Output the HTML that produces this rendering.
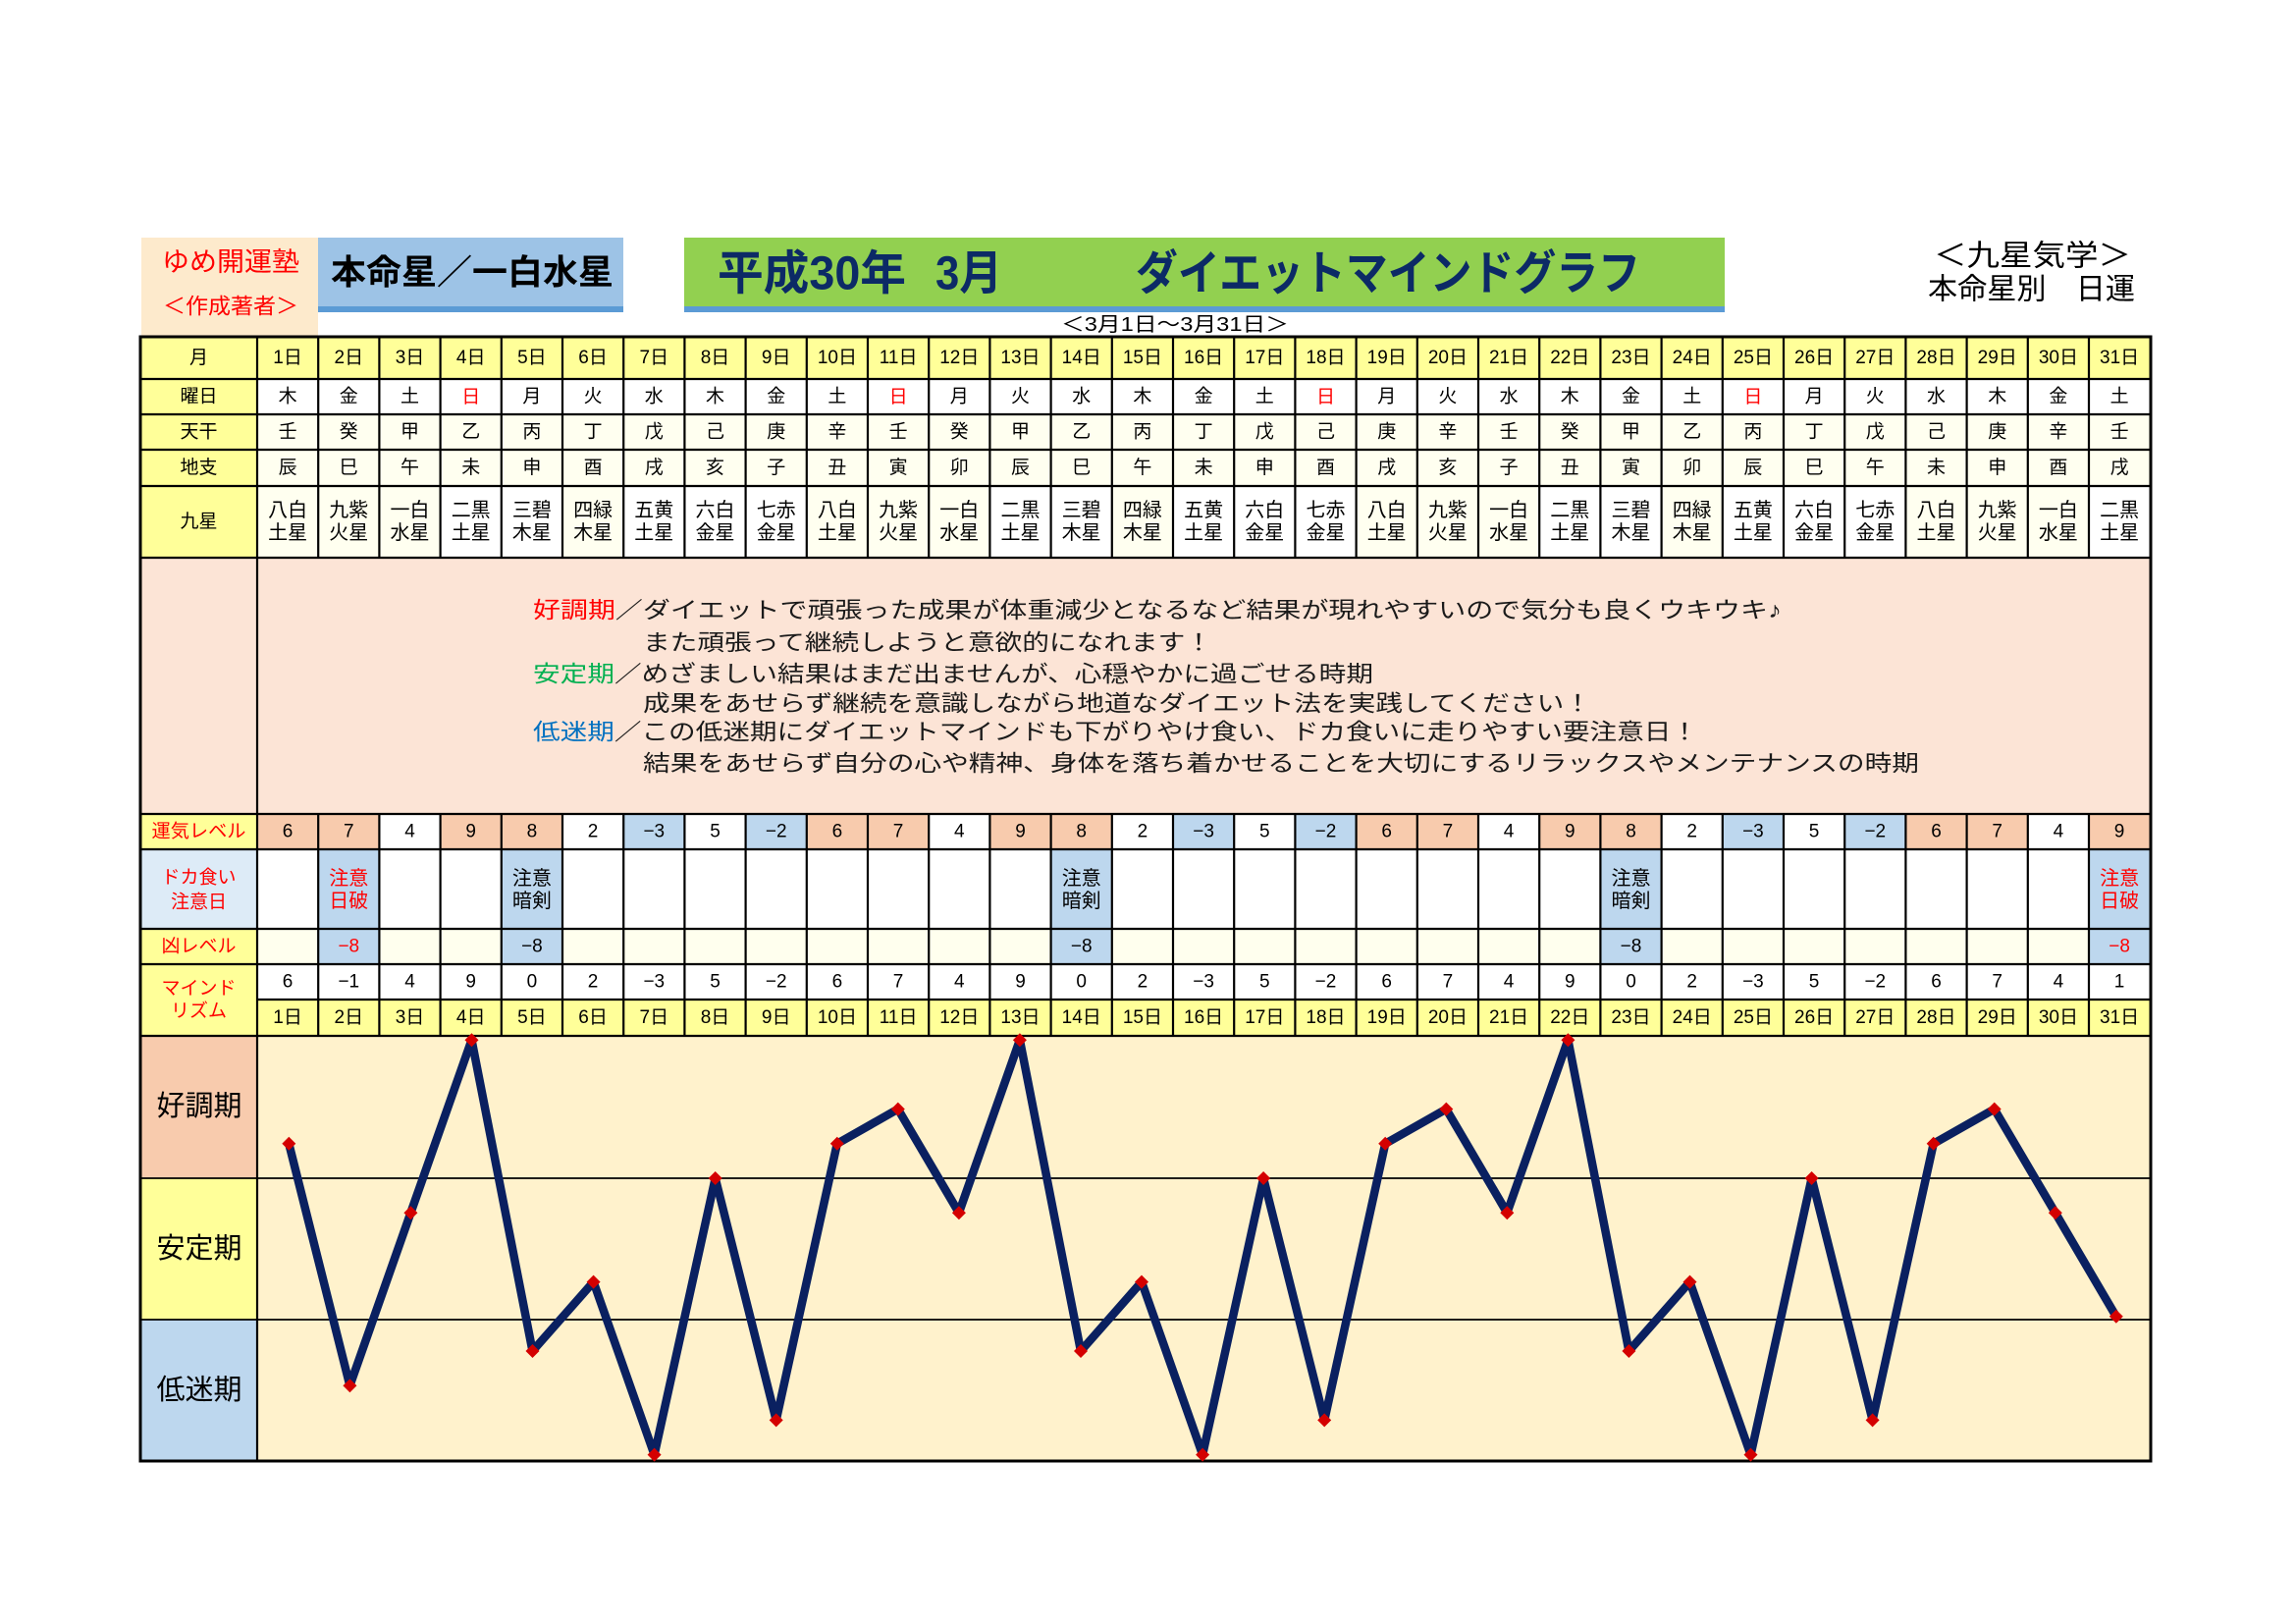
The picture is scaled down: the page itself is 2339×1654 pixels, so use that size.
<!DOCTYPE html>
<html><head><meta charset="utf-8">
<style>html,body{margin:0;padding:0;background:#fff;}svg{display:block}</style>
</head><body>
<svg xmlns="http://www.w3.org/2000/svg" width="2339" height="1654" viewBox="0 0 2339 1654" font-family="'Liberation Sans','Noto Sans CJK JP',sans-serif">
<rect width="2339" height="1654" fill="#fff"/>

<!-- ===== Header boxes ===== -->
<rect x="144" y="242" width="180" height="101" fill="#fdeacc"/>
<text x="235" y="267" font-size="27" fill="#ff0000" text-anchor="middle" dominant-baseline="central" textLength="140" lengthAdjust="spacingAndGlyphs">ゆめ開運塾</text>
<text x="235" y="312" font-size="22" fill="#ff0000" text-anchor="middle" dominant-baseline="central" textLength="138" lengthAdjust="spacingAndGlyphs">＜作成著者＞</text>

<rect x="324" y="242" width="311" height="71" fill="#9dc3e6"/>
<rect x="324" y="312" width="311" height="6" fill="#5b9bd5"/>
<text x="481" y="278" font-size="35" font-weight="bold" fill="#000" text-anchor="middle" dominant-baseline="central" textLength="288" lengthAdjust="spacingAndGlyphs">本命星／一白水星</text>

<rect x="697" y="242" width="1060" height="71" fill="#92d050"/>
<rect x="697" y="312" width="1060" height="6" fill="#5b9bd5"/>
<g font-size="48" font-weight="bold" fill="#0c2a66" dominant-baseline="central">
<text x="731" y="279" textLength="192" lengthAdjust="spacingAndGlyphs">平成30年</text>
<text x="953" y="279" textLength="68" lengthAdjust="spacingAndGlyphs">3月</text>
<text x="1157" y="279" textLength="514" lengthAdjust="spacingAndGlyphs">ダイエットマインドグラフ</text>
</g>
<text x="1197" y="331" font-size="20" fill="#000" text-anchor="middle" dominant-baseline="central" textLength="232" lengthAdjust="spacingAndGlyphs">＜3月1日～3月31日＞</text>

<text x="1970" y="261" font-size="30" fill="#000" dominant-baseline="central" textLength="201" lengthAdjust="spacingAndGlyphs">＜九星気学＞</text>
<text x="1964" y="295" font-size="30" fill="#000" dominant-baseline="central" textLength="211" lengthAdjust="spacingAndGlyphs">本命星別　日運</text>

<!-- ===== Top table fills ===== -->
<rect x="143" y="343" width="119" height="225" fill="#ffff99"/>
<rect x="262" y="343" width="1929" height="43" fill="#ffff99"/>
<rect x="262" y="386" width="1929" height="36" fill="#ffffff"/>
<rect x="262" y="422" width="1929" height="73" fill="#fffff0"/>
<rect x="262" y="495" width="1929" height="73" fill="#ffffff"/>
<g fill="#fffff0">
<rect x="262" y="495" width="62.2" height="73"/>
<rect x="324.2" y="495" width="62.2" height="73"/>
<rect x="386.4" y="495" width="62.2" height="73"/>
<rect x="573" y="495" width="62.2" height="73"/>
<rect x="821.8" y="495" width="62.2" height="73"/>
<rect x="884" y="495" width="62.2" height="73"/>
<rect x="946.2" y="495" width="62.2" height="73"/>
<rect x="1132.8" y="495" width="62.2" height="73"/>
<rect x="1381.6" y="495" width="62.2" height="73"/>
<rect x="1443.8" y="495" width="62.2" height="73"/>
<rect x="1506" y="495" width="62.2" height="73"/>
<rect x="1692.6" y="495" width="62.2" height="73"/>
<rect x="1941.4" y="495" width="62.2" height="73"/>
<rect x="2003.6" y="495" width="62.2" height="73"/>
<rect x="2065.8" y="495" width="62.2" height="73"/>
</g>

<!-- pink description area -->
<rect x="143" y="568" width="2048" height="261" fill="#fce4d6"/>

<!-- ===== Lower table fills ===== -->
<rect x="143" y="829" width="119" height="36" fill="#ffff99"/>
<rect x="143" y="865" width="119" height="81" fill="#ddebf7"/>
<rect x="143" y="946" width="119" height="109" fill="#ffff99"/>
<rect x="262" y="829" width="1929" height="36" fill="#ffffff"/>
<rect x="262" y="865" width="1929" height="81" fill="#ffffff"/>
<rect x="262" y="946" width="1929" height="36" fill="#ffffee"/>
<rect x="262" y="982" width="1929" height="36" fill="#ffffff"/>
<rect x="262" y="1018" width="1929" height="37" fill="#ffff99"/>
<g fill="#f8cbad">
<rect x="262" y="829" width="62.2" height="36"/>
<rect x="324.2" y="829" width="62.2" height="36"/>
<rect x="448.6" y="829" width="62.2" height="36"/>
<rect x="510.8" y="829" width="62.2" height="36"/>
<rect x="821.8" y="829" width="62.2" height="36"/>
<rect x="884" y="829" width="62.2" height="36"/>
<rect x="1008.4" y="829" width="62.2" height="36"/>
<rect x="1070.6" y="829" width="62.2" height="36"/>
<rect x="1381.6" y="829" width="62.2" height="36"/>
<rect x="1443.8" y="829" width="62.2" height="36"/>
<rect x="1568.2" y="829" width="62.2" height="36"/>
<rect x="1630.4" y="829" width="62.2" height="36"/>
<rect x="1941.4" y="829" width="62.2" height="36"/>
<rect x="2003.6" y="829" width="62.2" height="36"/>
<rect x="2128" y="829" width="62.2" height="36"/>
</g>
<g fill="#bdd7ee">
<rect x="635.2" y="829" width="62.2" height="36"/>
<rect x="759.6" y="829" width="62.2" height="36"/>
<rect x="1195" y="829" width="62.2" height="36"/>
<rect x="1319.4" y="829" width="62.2" height="36"/>
<rect x="1754.8" y="829" width="62.2" height="36"/>
<rect x="1879.2" y="829" width="62.2" height="36"/>
<rect x="324.2" y="865" width="62.2" height="117"/>
<rect x="510.8" y="865" width="62.2" height="117"/>
<rect x="1070.6" y="865" width="62.2" height="117"/>
<rect x="1630.4" y="865" width="62.2" height="117"/>
<rect x="2128" y="865" width="62.2" height="117"/>
</g>

<!-- ===== Chart fills ===== -->
<rect x="143" y="1055" width="119" height="145" fill="#f8cbad"/>
<rect x="143" y="1200" width="119" height="144" fill="#ffff99"/>
<rect x="143" y="1344" width="119" height="144" fill="#bdd7ee"/>
<rect x="262" y="1055" width="1929" height="433" fill="#fff2cc"/>

<!-- ===== Grid lines ===== -->
<g stroke="#000" stroke-width="2.2" fill="none">
<path d="M143 386H2191M143 422H2191M143 458H2191M143 495H2191M143 568H2191M143 829H2191M143 865H2191M143 946H2191M143 982H2191M262 1018H2191M143 1055H2191"/>
<path d="M262 343V1488"/>
<path d="M324.2 343v225M386.4 343v225M448.6 343v225M510.8 343v225M573 343v225M635.2 343v225M697.4 343v225M759.6 343v225M821.8 343v225M884 343v225M946.2 343v225M1008.4 343v225M1070.6 343v225M1132.8 343v225M1195 343v225M1257.2 343v225M1319.4 343v225M1381.6 343v225M1443.8 343v225M1506 343v225M1568.2 343v225M1630.4 343v225M1692.6 343v225M1754.8 343v225M1817 343v225M1879.2 343v225M1941.4 343v225M2003.6 343v225M2065.8 343v225M2128 343v225"/>
<path d="M324.2 829v226M386.4 829v226M448.6 829v226M510.8 829v226M573 829v226M635.2 829v226M697.4 829v226M759.6 829v226M821.8 829v226M884 829v226M946.2 829v226M1008.4 829v226M1070.6 829v226M1132.8 829v226M1195 829v226M1257.2 829v226M1319.4 829v226M1381.6 829v226M1443.8 829v226M1506 829v226M1568.2 829v226M1630.4 829v226M1692.6 829v226M1754.8 829v226M1817 829v226M1879.2 829v226M1941.4 829v226M2003.6 829v226M2065.8 829v226M2128 829v226"/>
</g>
<path d="M143 1200H2191M143 1344H2191" stroke="#000" stroke-width="1.8" fill="none"/>
<rect x="143" y="343" width="2048" height="1145" fill="none" stroke="#000" stroke-width="3"/>

<!-- ===== Top table text ===== -->
<g font-size="19" fill="#000" text-anchor="middle" dominant-baseline="central">
<text x="202.5" y="364.5">月</text>
<text x="202.5" y="404">曜日</text>
<text x="202.5" y="440">天干</text>
<text x="202.5" y="476.5">地支</text>
<text x="202.5" y="531.5">九星</text>
</g>
<g font-size="19" fill="#000" text-anchor="middle" dominant-baseline="central">
<text x="293.1" y="364.5">1日</text><text x="355.3" y="364.5">2日</text><text x="417.5" y="364.5">3日</text><text x="479.7" y="364.5">4日</text><text x="541.9" y="364.5">5日</text><text x="604.1" y="364.5">6日</text><text x="666.3" y="364.5">7日</text><text x="728.5" y="364.5">8日</text><text x="790.7" y="364.5">9日</text><text x="852.9" y="364.5">10日</text><text x="915.1" y="364.5">11日</text><text x="977.3" y="364.5">12日</text><text x="1039.5" y="364.5">13日</text><text x="1101.7" y="364.5">14日</text><text x="1163.9" y="364.5">15日</text><text x="1226.1" y="364.5">16日</text><text x="1288.3" y="364.5">17日</text><text x="1350.5" y="364.5">18日</text><text x="1412.7" y="364.5">19日</text><text x="1474.9" y="364.5">20日</text><text x="1537.1" y="364.5">21日</text><text x="1599.3" y="364.5">22日</text><text x="1661.5" y="364.5">23日</text><text x="1723.7" y="364.5">24日</text><text x="1785.9" y="364.5">25日</text><text x="1848.1" y="364.5">26日</text><text x="1910.3" y="364.5">27日</text><text x="1972.5" y="364.5">28日</text><text x="2034.7" y="364.5">29日</text><text x="2096.9" y="364.5">30日</text><text x="2159.1" y="364.5">31日</text>
</g>
<g font-size="19" fill="#000" text-anchor="middle" dominant-baseline="central">
<text y="404" x="293.1 355.3 417.5 479.7 541.9 604.1 666.3 728.5 790.7 852.9 915.1 977.3 1039.5 1101.7 1163.9 1226.1 1288.3 1350.5 1412.7 1474.9 1537.1 1599.3 1661.5 1723.7 1785.9 1848.1 1910.3 1972.5 2034.7 2096.9 2159.1">木金土<tspan fill="#ff0000">日</tspan>月火水木金土<tspan fill="#ff0000">日</tspan>月火水木金土<tspan fill="#ff0000">日</tspan>月火水木金土<tspan fill="#ff0000">日</tspan>月火水木金土</text>
<text y="440" x="293.1 355.3 417.5 479.7 541.9 604.1 666.3 728.5 790.7 852.9 915.1 977.3 1039.5 1101.7 1163.9 1226.1 1288.3 1350.5 1412.7 1474.9 1537.1 1599.3 1661.5 1723.7 1785.9 1848.1 1910.3 1972.5 2034.7 2096.9 2159.1">壬癸甲乙丙丁戊己庚辛壬癸甲乙丙丁戊己庚辛壬癸甲乙丙丁戊己庚辛壬</text>
<text y="476.5" x="293.1 355.3 417.5 479.7 541.9 604.1 666.3 728.5 790.7 852.9 915.1 977.3 1039.5 1101.7 1163.9 1226.1 1288.3 1350.5 1412.7 1474.9 1537.1 1599.3 1661.5 1723.7 1785.9 1848.1 1910.3 1972.5 2034.7 2096.9 2159.1">辰巳午未申酉戌亥子丑寅卯辰巳午未申酉戌亥子丑寅卯辰巳午未申酉戌</text>
</g>
<g font-size="20" fill="#000" text-anchor="middle" dominant-baseline="central">
<text x="293.1" y="520">八白</text><text x="355.3" y="520">九紫</text><text x="417.5" y="520">一白</text><text x="479.7" y="520">二黒</text><text x="541.9" y="520">三碧</text><text x="604.1" y="520">四緑</text><text x="666.3" y="520">五黄</text><text x="728.5" y="520">六白</text><text x="790.7" y="520">七赤</text><text x="852.9" y="520">八白</text><text x="915.1" y="520">九紫</text><text x="977.3" y="520">一白</text><text x="1039.5" y="520">二黒</text><text x="1101.7" y="520">三碧</text><text x="1163.9" y="520">四緑</text><text x="1226.1" y="520">五黄</text><text x="1288.3" y="520">六白</text><text x="1350.5" y="520">七赤</text><text x="1412.7" y="520">八白</text><text x="1474.9" y="520">九紫</text><text x="1537.1" y="520">一白</text><text x="1599.3" y="520">二黒</text><text x="1661.5" y="520">三碧</text><text x="1723.7" y="520">四緑</text><text x="1785.9" y="520">五黄</text><text x="1848.1" y="520">六白</text><text x="1910.3" y="520">七赤</text><text x="1972.5" y="520">八白</text><text x="2034.7" y="520">九紫</text><text x="2096.9" y="520">一白</text><text x="2159.1" y="520">二黒</text>
<text x="293.1" y="543">土星</text><text x="355.3" y="543">火星</text><text x="417.5" y="543">水星</text><text x="479.7" y="543">土星</text><text x="541.9" y="543">木星</text><text x="604.1" y="543">木星</text><text x="666.3" y="543">土星</text><text x="728.5" y="543">金星</text><text x="790.7" y="543">金星</text><text x="852.9" y="543">土星</text><text x="915.1" y="543">火星</text><text x="977.3" y="543">水星</text><text x="1039.5" y="543">土星</text><text x="1101.7" y="543">木星</text><text x="1163.9" y="543">木星</text><text x="1226.1" y="543">土星</text><text x="1288.3" y="543">金星</text><text x="1350.5" y="543">金星</text><text x="1412.7" y="543">土星</text><text x="1474.9" y="543">火星</text><text x="1537.1" y="543">水星</text><text x="1599.3" y="543">土星</text><text x="1661.5" y="543">木星</text><text x="1723.7" y="543">木星</text><text x="1785.9" y="543">土星</text><text x="1848.1" y="543">金星</text><text x="1910.3" y="543">金星</text><text x="1972.5" y="543">土星</text><text x="2034.7" y="543">火星</text><text x="2096.9" y="543">水星</text><text x="2159.1" y="543">土星</text>
</g>

<!-- ===== Description text ===== -->
<g font-size="23" fill="#1a1a1a" dominant-baseline="central">
<text x="543" y="621" textLength="1272" lengthAdjust="spacingAndGlyphs"><tspan fill="#ff0000">好調期</tspan>／ダイエットで頑張った成果が体重減少となるなど結果が現れやすいので気分も良くウキウキ♪</text>
<text x="655" y="654" textLength="580" lengthAdjust="spacingAndGlyphs">また頑張って継続しようと意欲的になれます！</text>
<text x="543" y="686" textLength="856" lengthAdjust="spacingAndGlyphs"><tspan fill="#00b050">安定期</tspan>／めざましい結果はまだ出ませんが、心穏やかに過ごせる時期</text>
<text x="655" y="716" textLength="966" lengthAdjust="spacingAndGlyphs">成果をあせらず継続を意識しながら地道なダイエット法を実践してください！</text>
<text x="543" y="745" textLength="1187" lengthAdjust="spacingAndGlyphs"><tspan fill="#0070c0">低迷期</tspan>／この低迷期にダイエットマインドも下がりやけ食い、ドカ食いに走りやすい要注意日！</text>
<text x="655" y="777" textLength="1300" lengthAdjust="spacingAndGlyphs">結果をあせらず自分の心や精神、身体を落ち着かせることを大切にするリラックスやメンテナンスの時期</text>
</g>

<!-- ===== Lower table labels ===== -->
<g font-size="19" fill="#ff0000" text-anchor="middle" dominant-baseline="central">
<text x="202.5" y="847" textLength="96" lengthAdjust="spacingAndGlyphs">運気レベル</text>
<text x="202.5" y="894">ドカ食い</text>
<text x="202.5" y="919">注意日</text>
<text x="202.5" y="964">凶レベル</text>
<text x="202.5" y="1007">マインド</text>
<text x="202.5" y="1030">リズム</text>
</g>

<!-- 運気 values -->
<g font-size="19" fill="#000" text-anchor="middle" dominant-baseline="central">
<text x="293.1" y="847">6</text><text x="355.3" y="847">7</text><text x="417.5" y="847">4</text><text x="479.7" y="847">9</text><text x="541.9" y="847">8</text><text x="604.1" y="847">2</text><text x="666.3" y="847">−3</text><text x="728.5" y="847">5</text><text x="790.7" y="847">−2</text><text x="852.9" y="847">6</text><text x="915.1" y="847">7</text><text x="977.3" y="847">4</text><text x="1039.5" y="847">9</text><text x="1101.7" y="847">8</text><text x="1163.9" y="847">2</text><text x="1226.1" y="847">−3</text><text x="1288.3" y="847">5</text><text x="1350.5" y="847">−2</text><text x="1412.7" y="847">6</text><text x="1474.9" y="847">7</text><text x="1537.1" y="847">4</text><text x="1599.3" y="847">9</text><text x="1661.5" y="847">8</text><text x="1723.7" y="847">2</text><text x="1785.9" y="847">−3</text><text x="1848.1" y="847">5</text><text x="1910.3" y="847">−2</text><text x="1972.5" y="847">6</text><text x="2034.7" y="847">7</text><text x="2096.9" y="847">4</text><text x="2159.1" y="847">9</text>
</g>

<!-- ドカ食い cells -->
<g font-size="20" text-anchor="middle" dominant-baseline="central">
<text x="355.3" y="895" fill="#ff0000">注意</text><text x="355.3" y="918" fill="#ff0000">日破</text>
<text x="541.9" y="895" fill="#000">注意</text><text x="541.9" y="918" fill="#000">暗剣</text>
<text x="1101.7" y="895" fill="#000">注意</text><text x="1101.7" y="918" fill="#000">暗剣</text>
<text x="1661.5" y="895" fill="#000">注意</text><text x="1661.5" y="918" fill="#000">暗剣</text>
<text x="2159.1" y="895" fill="#ff0000">注意</text><text x="2159.1" y="918" fill="#ff0000">日破</text>
</g>
<!-- 凶レベル -->
<g font-size="19" text-anchor="middle" dominant-baseline="central">
<text x="355.3" y="964" fill="#ff0000">−8</text>
<text x="541.9" y="964" fill="#000">−8</text>
<text x="1101.7" y="964" fill="#000">−8</text>
<text x="1661.5" y="964" fill="#000">−8</text>
<text x="2159.1" y="964" fill="#ff0000">−8</text>
</g>

<!-- Mind values -->
<g font-size="19" fill="#000" text-anchor="middle" dominant-baseline="central">
<text x="293.1" y="1000">6</text><text x="355.3" y="1000">−1</text><text x="417.5" y="1000">4</text><text x="479.7" y="1000">9</text><text x="541.9" y="1000">0</text><text x="604.1" y="1000">2</text><text x="666.3" y="1000">−3</text><text x="728.5" y="1000">5</text><text x="790.7" y="1000">−2</text><text x="852.9" y="1000">6</text><text x="915.1" y="1000">7</text><text x="977.3" y="1000">4</text><text x="1039.5" y="1000">9</text><text x="1101.7" y="1000">0</text><text x="1163.9" y="1000">2</text><text x="1226.1" y="1000">−3</text><text x="1288.3" y="1000">5</text><text x="1350.5" y="1000">−2</text><text x="1412.7" y="1000">6</text><text x="1474.9" y="1000">7</text><text x="1537.1" y="1000">4</text><text x="1599.3" y="1000">9</text><text x="1661.5" y="1000">0</text><text x="1723.7" y="1000">2</text><text x="1785.9" y="1000">−3</text><text x="1848.1" y="1000">5</text><text x="1910.3" y="1000">−2</text><text x="1972.5" y="1000">6</text><text x="2034.7" y="1000">7</text><text x="2096.9" y="1000">4</text><text x="2159.1" y="1000">1</text>
</g>
<!-- Dates row -->
<g font-size="19" fill="#000" text-anchor="middle" dominant-baseline="central">
<text x="293.1" y="1036.5">1日</text><text x="355.3" y="1036.5">2日</text><text x="417.5" y="1036.5">3日</text><text x="479.7" y="1036.5">4日</text><text x="541.9" y="1036.5">5日</text><text x="604.1" y="1036.5">6日</text><text x="666.3" y="1036.5">7日</text><text x="728.5" y="1036.5">8日</text><text x="790.7" y="1036.5">9日</text><text x="852.9" y="1036.5">10日</text><text x="915.1" y="1036.5">11日</text><text x="977.3" y="1036.5">12日</text><text x="1039.5" y="1036.5">13日</text><text x="1101.7" y="1036.5">14日</text><text x="1163.9" y="1036.5">15日</text><text x="1226.1" y="1036.5">16日</text><text x="1288.3" y="1036.5">17日</text><text x="1350.5" y="1036.5">18日</text><text x="1412.7" y="1036.5">19日</text><text x="1474.9" y="1036.5">20日</text><text x="1537.1" y="1036.5">21日</text><text x="1599.3" y="1036.5">22日</text><text x="1661.5" y="1036.5">23日</text><text x="1723.7" y="1036.5">24日</text><text x="1785.9" y="1036.5">25日</text><text x="1848.1" y="1036.5">26日</text><text x="1910.3" y="1036.5">27日</text><text x="1972.5" y="1036.5">28日</text><text x="2034.7" y="1036.5">29日</text><text x="2096.9" y="1036.5">30日</text><text x="2159.1" y="1036.5">31日</text>
</g>

<!-- Chart labels -->
<g font-size="29" fill="#000" text-anchor="middle" dominant-baseline="central">
<text x="203" y="1127">好調期</text>
<text x="203" y="1272">安定期</text>
<text x="203" y="1416">低迷期</text>
</g>

<!-- ===== Chart line ===== -->
<polyline fill="none" stroke="#0a2060" stroke-width="8.5" stroke-linejoin="round" stroke-linecap="butt"
points="294.3,1164.8 356.4,1411.2 418.4,1235.2 480.5,1059.2 542.5,1376 604.6,1305.6 666.6,1481.6 728.7,1200 790.7,1446.4 852.8,1164.8 914.8,1129.6 976.9,1235.2 1038.9,1059.2 1101.0,1376 1163.0,1305.6 1225.1,1481.6 1287.1,1200 1349.2,1446.4 1411.2,1164.8 1473.3,1129.6 1535.3,1235.2 1597.4,1059.2 1659.4,1376 1721.5,1305.6 1783.5,1481.6 1845.6,1200 1907.6,1446.4 1969.7,1164.8 2031.7,1129.6 2093.8,1235.2 2155.8,1340.8"/>
<g fill="#d40000">
<path d="M294.3 1157.8l7 7-7 7-7-7z"/>
<path d="M356.4 1404.2l7 7-7 7-7-7z"/>
<path d="M418.4 1228.2l7 7-7 7-7-7z"/>
<path d="M480.5 1052.2l7 7-7 7-7-7z"/>
<path d="M542.5 1369l7 7-7 7-7-7z"/>
<path d="M604.6 1298.6l7 7-7 7-7-7z"/>
<path d="M666.6 1474.6l7 7-7 7-7-7z"/>
<path d="M728.7 1193l7 7-7 7-7-7z"/>
<path d="M790.7 1439.4l7 7-7 7-7-7z"/>
<path d="M852.8 1157.8l7 7-7 7-7-7z"/>
<path d="M914.8 1122.6l7 7-7 7-7-7z"/>
<path d="M976.9 1228.2l7 7-7 7-7-7z"/>
<path d="M1038.9 1052.2l7 7-7 7-7-7z"/>
<path d="M1101.0 1369l7 7-7 7-7-7z"/>
<path d="M1163.0 1298.6l7 7-7 7-7-7z"/>
<path d="M1225.1 1474.6l7 7-7 7-7-7z"/>
<path d="M1287.1 1193l7 7-7 7-7-7z"/>
<path d="M1349.2 1439.4l7 7-7 7-7-7z"/>
<path d="M1411.2 1157.8l7 7-7 7-7-7z"/>
<path d="M1473.3 1122.6l7 7-7 7-7-7z"/>
<path d="M1535.3 1228.2l7 7-7 7-7-7z"/>
<path d="M1597.4 1052.2l7 7-7 7-7-7z"/>
<path d="M1659.4 1369l7 7-7 7-7-7z"/>
<path d="M1721.5 1298.6l7 7-7 7-7-7z"/>
<path d="M1783.5 1474.6l7 7-7 7-7-7z"/>
<path d="M1845.6 1193l7 7-7 7-7-7z"/>
<path d="M1907.6 1439.4l7 7-7 7-7-7z"/>
<path d="M1969.7 1157.8l7 7-7 7-7-7z"/>
<path d="M2031.7 1122.6l7 7-7 7-7-7z"/>
<path d="M2093.8 1228.2l7 7-7 7-7-7z"/>
<path d="M2155.8 1333.8l7 7-7 7-7-7z"/>
</g>
</svg>
</body></html>
